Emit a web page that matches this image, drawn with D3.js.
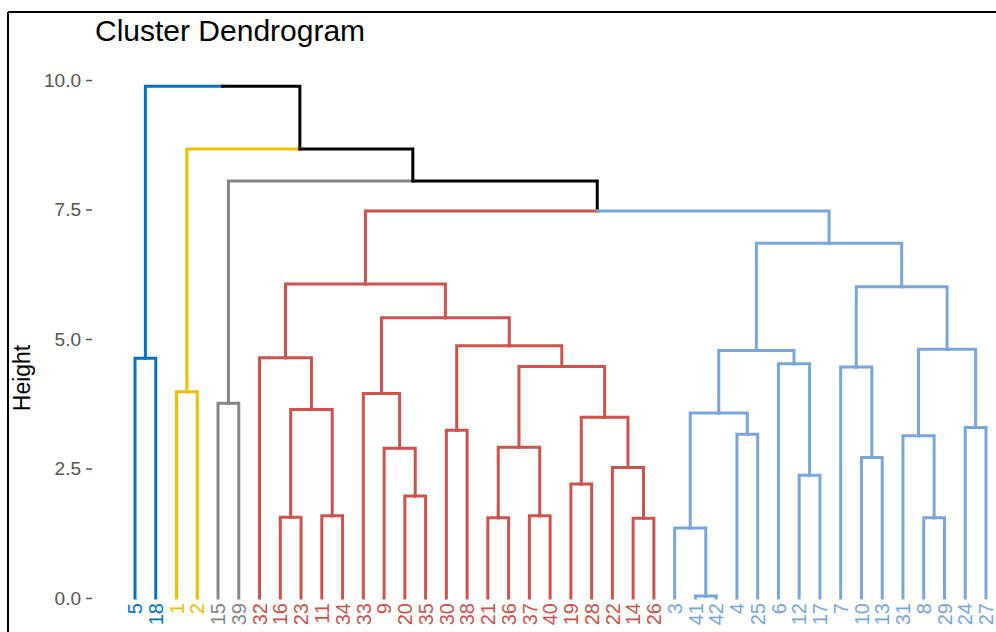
<!DOCTYPE html>
<html>
<head>
<meta charset="utf-8">
<script src="https://cdn.jsdelivr.net/npm/d3@7"></script>
<style>
  html, body { margin: 0; padding: 0; background: #fff; }
  svg { display: block; }
</style>
</head>
<body>
<svg id="chart" width="996" height="632"></svg>
<script>
// ---- data ----
const title = "Cluster Dendrogram";
const yLabel = "Height";
// hclust-style merge table: negative = leaf label, positive = earlier merge row (1-based)
const mergeA = [-41, -3, -4, 2, -12, -6, 4, -10, -7, -8, -31, -24, 11, 9, 7,
                -16, -11, 16, -32, -20, -9, -33, -30, -21, -37, 24, -19, -14, -22, 27, 26, 23, 22, 19, 34,
                -15, 36, -1, 38, -5, 40];
const mergeB = [-42, 1, -25, 3, -17, 5, 6, -13, 8, -29, 10, -27, 12, 13, 14,
                -23, -34, 17, 18, -35, 20, 21, -38, -36, -40, 25, -28, -26, 28, 29, 30, 31, 32, 33, 15,
                -39, 35, -2, 37, -18, 39];
const mergeHeight = [0.04, 1.35, 3.16, 3.57, 2.37, 4.52, 4.78, 2.71, 4.46, 1.55, 3.13, 3.29, 4.80, 6.01, 6.85,
                1.56, 1.59, 3.64, 4.64, 1.97, 2.89, 3.95, 3.24, 1.55, 1.59, 2.91, 2.20, 1.54, 2.52, 3.49, 4.47, 4.87, 5.41, 6.06, 7.47,
                3.76, 8.05, 3.98, 8.67, 4.63, 9.88];
const leafOrder = [5, 18, 1, 2, 15, 39, 32, 16, 23, 11, 34, 33, 9, 20, 35, 30, 38, 21, 36, 37, 40,
                   19, 28, 22, 14, 26, 3, 41, 42, 4, 25, 6, 12, 17, 7, 10, 13, 31, 8, 29, 24, 27];
const leafCluster = [0, 0, 1, 1, 2, 2, 3, 3, 3, 3, 3, 3, 3, 3, 3, 3, 3, 3, 3, 3, 3,
                     3, 3, 3, 3, 3, 4, 4, 4, 4, 4, 4, 4, 4, 4, 4, 4, 4, 4, 4, 4, 4];
const clusterColors = ["#0073C2", "#EFC000", "#868686", "#CD534C", "#7AA6DC"];
const yTicks = [0, 2.5, 5, 7.5, 10];

// ---- build tree ----
function build(ref) {
  if (ref < 0) return { name: String(-ref), height: 0 };
  const i = ref - 1;
  return { height: mergeHeight[i], children: [build(mergeA[i]), build(mergeB[i])] };
}
const root = d3.hierarchy(build(mergeA.length));

const clusterOfLeaf = new Map(leafOrder.map((l, i) => [String(l), leafCluster[i]]));

const svg = d3.select("#chart");
const x = d3.scalePoint().domain(leafOrder.map(String)).range([135, 986]);
const y = d3.scaleLinear().domain([0, 10]).range([598, 80]);

// positions & colors
root.eachAfter(n => {
  if (!n.children) {
    n.px = x(n.data.name);
    n.cl = clusterOfLeaf.get(n.data.name);
  } else {
    n.px = (n.children[0].px + n.children[1].px) / 2;
    const c0 = n.children[0].cl, c1 = n.children[1].cl;
    n.cl = (c0 === c1) ? c0 : -1;
  }
  n.py = y(n.data.height);
});
const colorOf = n => n.cl >= 0 ? clusterColors[n.cl] : "#000000";

// frame lines
svg.append("line").attr("x1", 8).attr("x2", 8).attr("y1", 12).attr("y2", 632)
  .attr("stroke", "#000").attr("stroke-width", 2);
svg.append("line").attr("x1", 8).attr("x2", 996).attr("y1", 12).attr("y2", 12)
  .attr("stroke", "#000").attr("stroke-width", 2);

// edges
const g = svg.append("g");
root.descendants().filter(n => n.parent).forEach(n => {
  const p = n.parent;
  g.append("path")
    .attr("d", `M${p.px},${p.py}H${n.px}V${n.py}`)
    .attr("fill", "none")
    .attr("stroke", colorOf(n))
    .attr("stroke-width", 3)
    .attr("stroke-linejoin", "miter")
    .attr("stroke-linecap", "square");
});

// leaf labels
root.leaves().forEach(n => {
  svg.append("text")
    .attr("transform", `translate(${n.px},${y(0) + 5}) rotate(-90)`)
    .attr("text-anchor", "end")
    .attr("dy", "0.36em")
    .attr("font-family", "Liberation Sans, Arial, sans-serif")
    .attr("font-size", 20)
    .attr("fill", colorOf(n))
    .text(n.data.name);
});

// y axis
const yAxis = d3.axisLeft(y).tickValues(yTicks).tickFormat(d3.format(".1f")).tickSize(6).tickPadding(5);
const ax = svg.append("g").attr("transform", "translate(92,0)").call(yAxis);
ax.select(".domain").remove();
ax.selectAll(".tick line").attr("stroke", "#555").attr("stroke-width", 1.5);
ax.selectAll(".tick text").attr("fill", "#555")
  .attr("font-family", "Liberation Sans, Arial, sans-serif").attr("font-size", 19);

// y label
svg.append("text")
  .attr("transform", "translate(30,378) rotate(-90)")
  .attr("text-anchor", "middle")
  .attr("font-family", "Liberation Sans, Arial, sans-serif")
  .attr("font-size", 23)
  .attr("fill", "#000")
  .text(yLabel);

// title
svg.append("text")
  .attr("x", 95).attr("y", 41)
  .attr("font-family", "Liberation Sans, Arial, sans-serif")
  .attr("font-size", 30)
  .attr("fill", "#000")
  .text(title);
</script>
</body>
</html>
